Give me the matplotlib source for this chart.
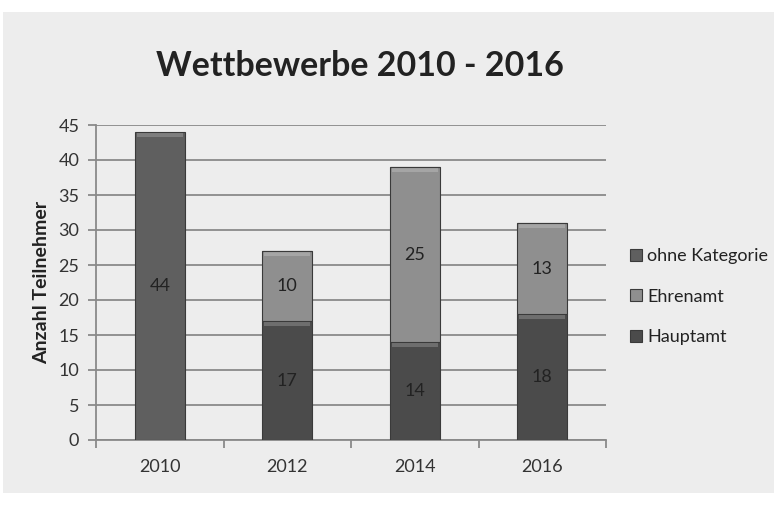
import matplotlib.pyplot as plt
from matplotlib.patches import Rectangle
import numpy as np

# --- Data ---
years = ['2010', '2012', '2014', '2016']
hauptamt = [0, 17, 14, 18]
ehrenamt = [0, 10, 25, 13]
ohne_kategorie = [44, 0, 0, 0]

plt.rcParams['font.family'] = ['Lato', 'DejaVu Sans']

BG = '#ededed'
fig = plt.figure(figsize=(7.74, 5.08), dpi=100, facecolor='white')
# gray chart area (leaves a white strip at top/left/bottom like the scan)
fig.patches.append(Rectangle((3 / 774, 15 / 508), 1, 481 / 508, transform=fig.transFigure,
                             facecolor=BG, edgecolor='none', zorder=-10))

ax = fig.add_axes([96 / 774, 68 / 508, 510 / 774, 315 / 508])
ax.set_facecolor(BG)

x = np.arange(len(years))
w = 0.39

series = [
    ("Hauptamt", hauptamt, '#4b4b4b'),
    ("Ehrenamt", ehrenamt, '#8f8f8f'),
    ("ohne Kategorie", ohne_kategorie, '#5f5f5f'),
]

bottom = np.zeros(len(years))
handles = []
for name, vals, col in series:
    vals = np.array(vals, dtype=float)
    bars = ax.bar(x, vals, w, bottom=bottom, color=col, edgecolor='#3a3a3a',
                  linewidth=0.8, zorder=3, label=name)
    # simple bevel: lighter strip at top of each segment
    for xi, b, v in zip(x, bottom, vals):
        if v > 0:
            ax.bar(xi, 0.6, w * 0.92, bottom=b + v - 0.75, color='white', alpha=0.2,
                   linewidth=0, zorder=4)
            ax.text(xi, b + v / 2, f"{int(v)}", ha='center', va='center',
                    fontsize=13, color='#222222', zorder=5)
    handles.append(bars)
    bottom += vals

ax.set_xlim(-0.5, len(years) - 0.5)
ax.set_ylim(0, 45)
ax.set_yticks(range(0, 46, 5))
ax.yaxis.grid(True, color='#8a8a8a', linewidth=1.3, zorder=0)
ax.set_axisbelow(True)

for s in ['top', 'right']:
    ax.spines[s].set_visible(False)
ax.spines['left'].set_color('#8a8a8a')
ax.spines['bottom'].set_color('#8a8a8a')
ax.spines['left'].set_linewidth(1.3)
ax.spines['bottom'].set_linewidth(1.3)

ax.set_xticks(x)
ax.set_xticklabels(years)
ax.set_xticks(np.arange(-0.5, len(years), 1), minor=True)
ax.tick_params(axis='x', which='major', length=0, pad=14, labelsize=13, labelcolor='#333333')
ax.tick_params(axis='x', which='minor', length=6, color='#8a8a8a', width=1.3)
ax.tick_params(axis='y', length=6, color='#8a8a8a', width=1.3, labelsize=13,
               labelcolor='#333333', pad=6)

ax.set_ylabel("Anzahl Teilnehmer", fontsize=14, fontweight='bold', color='#222222', labelpad=6)

fig.text(360 / 774, 1 - 66 / 508, "Wettbewerbe 2010 - 2016", ha='center', va='center',
         fontsize=24.5, fontweight='bold', color='#222222')

leg = ax.legend(handles[::-1], [h.get_label() for h in handles[::-1]],
                loc='center left', bbox_to_anchor=(1.015, 0.455), frameon=False,
                fontsize=13, handlelength=0.65, handleheight=0.65, handletextpad=0.3,
                labelspacing=1.35, labelcolor='#222222')

plt.savefig('out.png', dpi=100, facecolor='white')
